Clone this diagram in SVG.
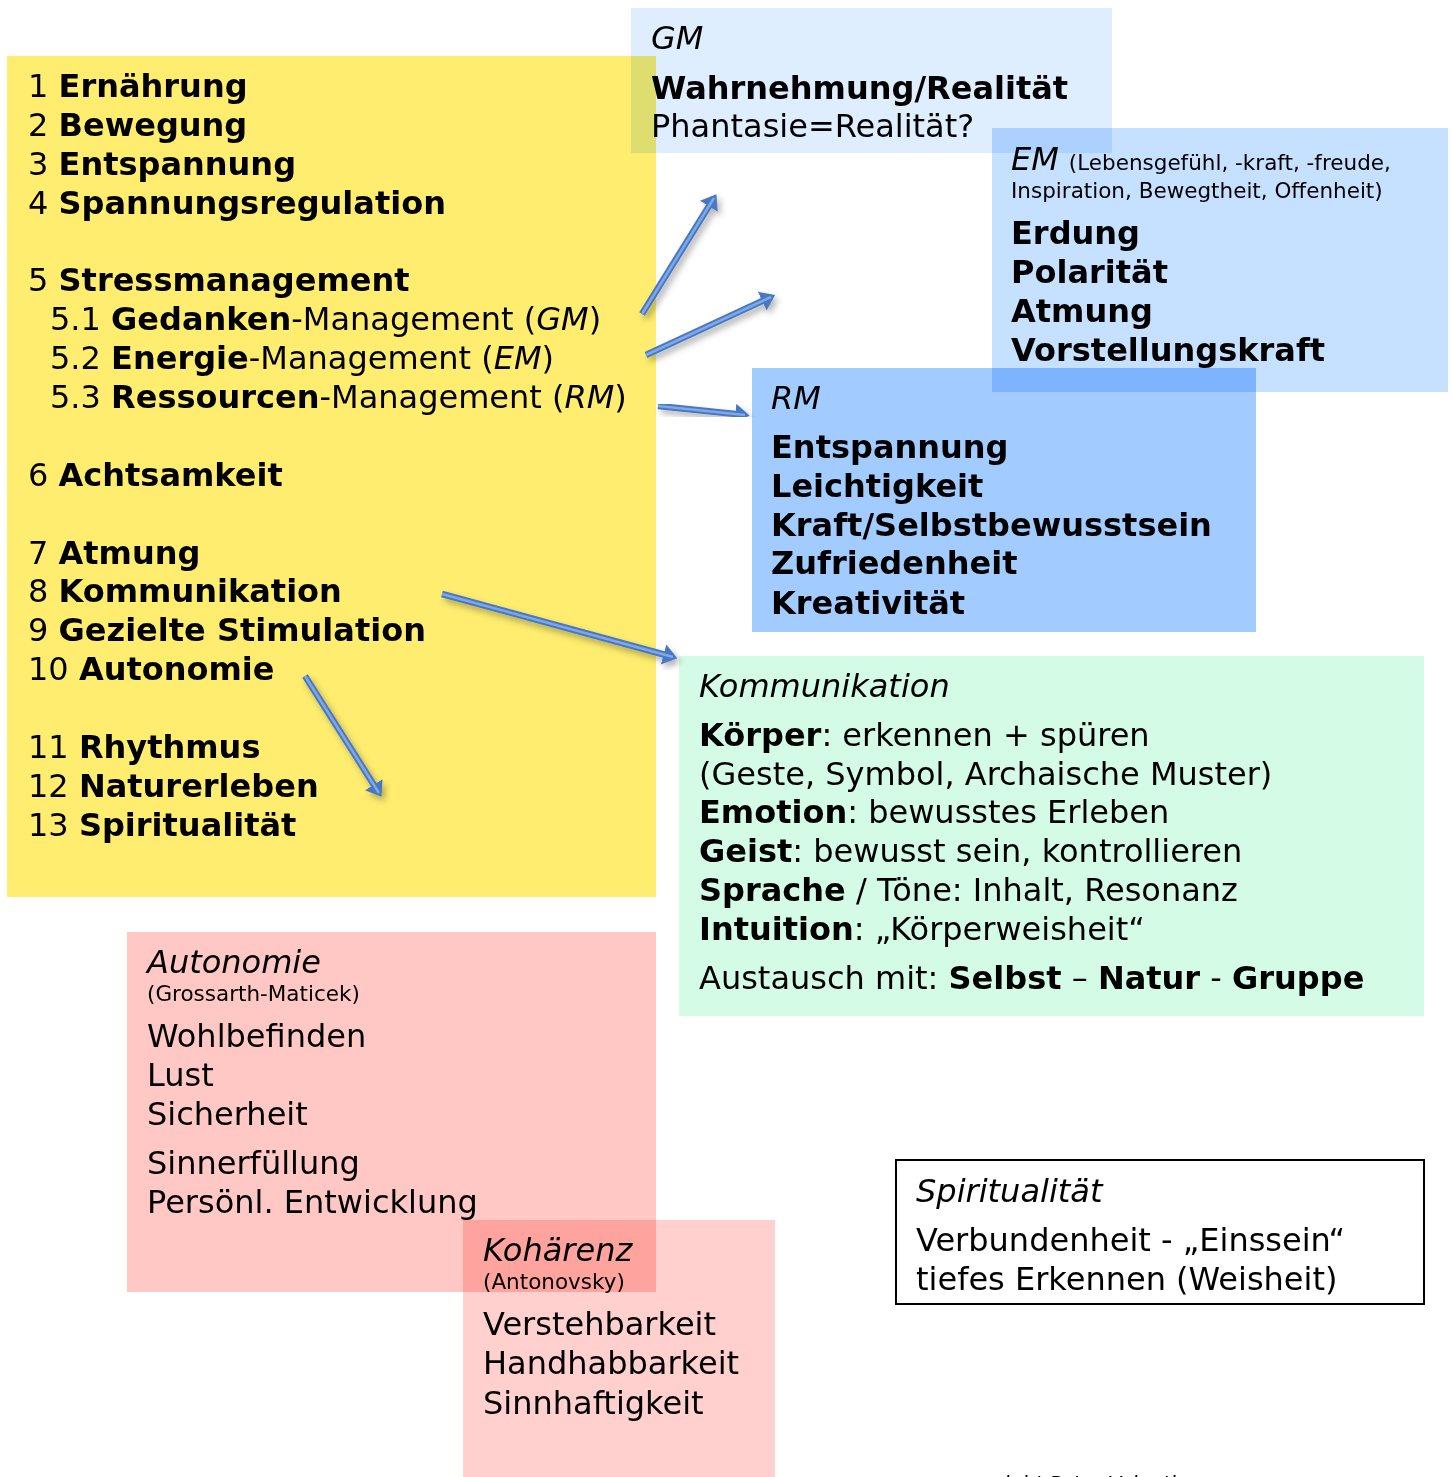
<svg xmlns="http://www.w3.org/2000/svg" width="1452" height="1477" viewBox="0 0 1452 1477">
<style>
text{font-family:"DejaVu Sans",Verdana,sans-serif;fill:#000}
.t{font-size:32px}
.b{font-weight:bold}
.i{font-style:italic}
.s{font-size:21.5px}
.f{font-size:20px}
.box{mix-blend-mode:multiply}
.conn line{stroke:#4A78C2;stroke-width:6.5;stroke-linecap:butt;filter:url(#sh)}
.conn line.in{stroke:#7EA8E8;stroke-width:2.5;filter:none}
</style>
<defs>
<marker id="ah" markerWidth="4" markerHeight="4" refX="1.5" refY="2" orient="auto" markerUnits="strokeWidth">
<path d="M0,0.4 L2.2,2 L0,3.6 Z" fill="#4A78C2"/>
</marker>
<filter id="sh" x="-20%" y="-20%" width="140%" height="140%">
<feDropShadow dx="3" dy="4" stdDeviation="3" flood-color="#000" flood-opacity="0.3"/>
</filter>
</defs>
<rect width="1452" height="1477" fill="#fff"/>
<g id="list">
<rect class="box" x="7" y="56" width="649" height="841" fill="#FFED6F"/>
<text class="t" x="28" y="97">1 <tspan class="b">Ernährung</tspan></text>
<text class="t" x="28" y="136">2 <tspan class="b">Bewegung</tspan></text>
<text class="t" x="28" y="175">3 <tspan class="b">Entspannung</tspan></text>
<text class="t" x="28" y="214">4 <tspan class="b">Spannungsregulation</tspan></text>
<text class="t" x="28" y="291">5 <tspan class="b">Stressmanagement</tspan></text>
<text class="t" x="50" y="330">5.1 <tspan class="b">Gedanken</tspan>-Management (<tspan class="i">GM</tspan>)</text>
<text class="t" x="50" y="369">5.2 <tspan class="b">Energie</tspan>-Management (<tspan class="i">EM</tspan>)</text>
<text class="t" x="50" y="408">5.3 <tspan class="b">Ressourcen</tspan>-Management (<tspan class="i">RM</tspan>)</text>
<text class="t" x="28" y="486">6 <tspan class="b">Achtsamkeit</tspan></text>
<text class="t" x="28" y="564">7 <tspan class="b">Atmung</tspan></text>
<text class="t" x="28" y="602">8 <tspan class="b">Kommunikation</tspan></text>
<text class="t" x="28" y="641">9 <tspan class="b">Gezielte Stimulation</tspan></text>
<text class="t" x="28" y="680">10 <tspan class="b">Autonomie</tspan></text>
<text class="t" x="28" y="758">11 <tspan class="b">Rhythmus</tspan></text>
<text class="t" x="28" y="797">12 <tspan class="b">Naturerleben</tspan></text>
<text class="t" x="28" y="836">13 <tspan class="b">Spiritualität</tspan></text>
</g>
<g id="gm">
<rect class="box" x="631" y="8" width="481" height="145" fill="#DEEEFF"/>
<text class="t i" x="651" y="49">GM</text>
<text class="t b" x="651" y="99">Wahrnehmung/Realität</text>
<text class="t" x="651" y="137">Phantasie=Realität?</text>
</g>
<g id="em">
<rect class="box" x="992" y="128" width="456" height="264" fill="#C6E0FF"/>
<text x="1011" y="170"><tspan class="t i">EM</tspan><tspan class="s" dx="10">(Lebensgefühl, -kraft, -freude,</tspan></text>
<text class="s" x="1011" y="198">Inspiration, Bewegtheit, Offenheit)</text>
<text class="t b" x="1011" y="244">Erdung</text>
<text class="t b" x="1011" y="283">Polarität</text>
<text class="t b" x="1011" y="322">Atmung</text>
<text class="t b" x="1011" y="361">Vorstellungskraft</text>
</g>
<g id="rm">
<rect class="box" x="752" y="368" width="504" height="264" fill="#A2CCFF"/>
<text class="t i" x="771" y="409">RM</text>
<text class="t b" x="771" y="458">Entspannung</text>
<text class="t b" x="771" y="497">Leichtigkeit</text>
<text class="t b" x="771" y="536">Kraft/Selbstbewusstsein</text>
<text class="t b" x="771" y="574">Zufriedenheit</text>
<text class="t b" x="771" y="614">Kreativität</text>
</g>
<g id="kommunikation">
<rect class="box" x="679" y="656" width="745" height="360" fill="#D4FBE6"/>
<text class="t i" x="699" y="697">Kommunikation</text>
<text class="t" x="699" y="746"><tspan class="b">Körper</tspan>: erkennen + spüren</text>
<text class="t" x="699" y="785">(Geste, Symbol, Archaische Muster)</text>
<text class="t" x="699" y="823"><tspan class="b">Emotion</tspan>: bewusstes Erleben</text>
<text class="t" x="699" y="862"><tspan class="b">Geist</tspan>: bewusst sein, kontrollieren</text>
<text class="t" x="699" y="901"><tspan class="b">Sprache</tspan> / Töne: Inhalt, Resonanz</text>
<text class="t" x="699" y="940"><tspan class="b">Intuition</tspan>: „Körperweisheit“</text>
<text class="t" x="699" y="989">Austausch mit: <tspan class="b">Selbst</tspan> – <tspan class="b">Natur</tspan> - <tspan class="b">Gruppe</tspan></text>
</g>
<g id="autonomie">
<rect class="box" x="127" y="932" width="529" height="360" fill="#FFC8C5"/>
<text class="t i" x="147" y="973">Autonomie</text>
<text class="s" x="147" y="1001">(Grossarth-Maticek)</text>
<text class="t" x="147" y="1047">Wohlbefinden</text>
<text class="t" x="147" y="1086">Lust</text>
<text class="t" x="147" y="1125">Sicherheit</text>
<text class="t" x="147" y="1174">Sinnerfüllung</text>
<text class="t" x="147" y="1213">Persönl. Entwicklung</text>
</g>
<g id="kohaerenz">
<rect class="box" x="463" y="1220" width="312" height="257" fill="#FFD0CD"/>
<text class="t i" x="483" y="1261">Kohärenz</text>
<text class="s" x="483" y="1289">(Antonovsky)</text>
<text class="t" x="483" y="1335">Verstehbarkeit</text>
<text class="t" x="483" y="1374">Handhabbarkeit</text>
<text class="t" x="483" y="1414">Sinnhaftigkeit</text>
</g>
<g id="spiritualitaet">
<rect x="896" y="1160" width="528" height="144" fill="#fff" stroke="#000" stroke-width="2"/>
<text class="t i" x="916" y="1202">Spiritualität</text>
<text class="t" x="916" y="1251">Verbundenheit - „Einssein“</text>
<text class="t" x="916" y="1290">tiefes Erkennen (Weisheit)</text>
</g>
<g id="footer">
<text class="f" x="1190" y="1490" text-anchor="end">copyright Peter Valentin</text>
</g>
<g id="connectors" class="conn">
<line x1="642" y1="314" x2="714" y2="198" marker-end="url(#ah)"/>
<line class="in" x1="642" y1="314" x2="714" y2="198"/>
<line x1="646" y1="355" x2="771" y2="297" marker-end="url(#ah)"/>
<line class="in" x1="646" y1="355" x2="771" y2="297"/>
<line x1="658" y1="406" x2="745" y2="415" marker-end="url(#ah)"/>
<line class="in" x1="658" y1="406" x2="745" y2="415"/>
<line x1="442" y1="594" x2="673" y2="657" marker-end="url(#ah)"/>
<line class="in" x1="442" y1="594" x2="673" y2="657"/>
<line x1="305" y1="676" x2="379" y2="793" marker-end="url(#ah)"/>
<line class="in" x1="305" y1="676" x2="379" y2="793"/>
</g>
</svg>
